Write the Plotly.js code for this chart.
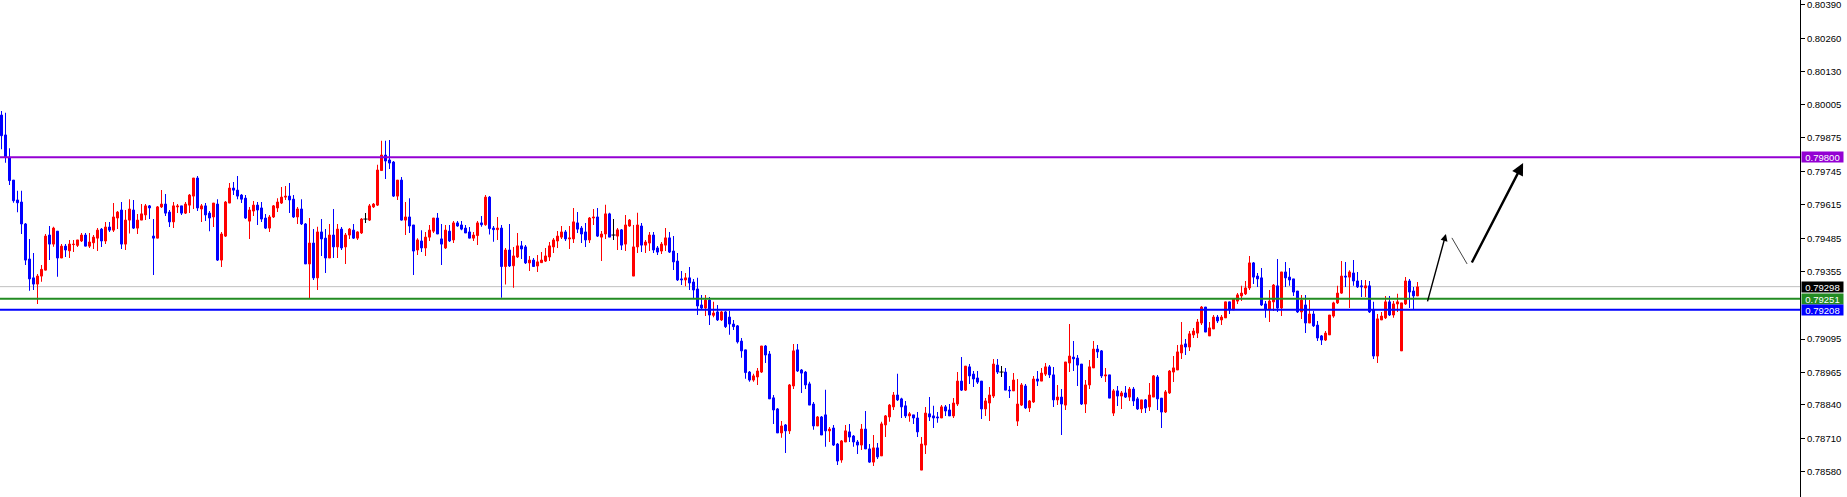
<!DOCTYPE html>
<html><head><meta charset="utf-8">
<script src="https://cdn.plot.ly/plotly-3.0.1.min.js"></script>
<style>html,body{margin:0;padding:0;background:#fff;overflow:hidden}#chart{width:1847px;height:497px}</style>
</head><body><div id="chart"></div>
<script>
const open=[
0.79963,0.79886,0.79799,0.79711,0.79634,0.79626,0.79541,0.79405,0.79332,0.79308,
0.79339,0.79362,0.79498,0.79463,0.79513,0.79409,0.79455,0.79437,0.79461,0.79458,
0.79475,0.79498,0.79455,0.79468,0.79486,0.79521,0.79475,0.79529,0.79517,0.79564,
0.79595,0.79463,0.79556,0.79595,0.79525,0.79556,0.79576,0.79611,0.79494,0.79486,
0.79607,0.79618,0.79587,0.79549,0.79607,0.79611,0.79583,0.79614,0.79649,0.79719,
0.79599,0.79611,0.79583,0.79568,0.79618,0.79401,0.79494,0.79622,0.79680,0.79672,
0.79653,0.79641,0.79552,0.79591,0.79614,0.79603,0.79564,0.79525,0.79568,0.79603,
0.79622,0.79645,0.79649,0.79637,0.79568,0.79599,0.79541,0.79386,0.79467,0.79332,
0.79510,0.79486,0.79409,0.79498,0.79452,0.79521,0.79452,0.79498,0.79517,0.79486,
0.79506,0.79560,0.79556,0.79607,0.79614,0.79748,0.79808,0.79789,0.79781,0.79649,
0.79711,0.79556,0.79568,0.79537,0.79440,0.79475,0.79448,0.79490,0.79513,0.79564,
0.79483,0.79448,0.79513,0.79479,0.79545,0.79537,0.79525,0.79510,0.79486,0.79496,
0.79545,0.79538,0.79645,0.79525,0.79519,0.79525,0.79376,0.79440,0.79379,0.79413,
0.79456,0.79452,0.79390,0.79401,0.79378,0.79391,0.79397,0.79413,0.79452,0.79475,
0.79490,0.79510,0.79483,0.79483,0.79545,0.79525,0.79510,0.79479,0.79564,0.79568,
0.79490,0.79502,0.79580,0.79498,0.79494,0.79518,0.79463,0.79533,0.79339,0.79452,
0.79533,0.79459,0.79467,0.79498,0.79448,0.79436,0.79459,0.79487,0.79436,0.79397,
0.79328,0.79324,0.79332,0.79316,0.79289,0.79227,0.79215,0.79246,0.79187,0.79200,
0.79169,0.79200,0.79180,0.79153,0.79146,0.79087,0.79053,0.78967,0.78936,0.78948,
0.78967,0.79068,0.79037,0.78867,0.78824,0.78731,0.78762,0.78739,0.78913,0.79053,
0.78975,0.78967,0.78921,0.78843,0.78758,0.78793,0.78801,0.78739,0.78750,0.78688,
0.78626,0.78696,0.78735,0.78719,0.78696,0.78684,0.78746,0.78669,0.78618,0.78673,
0.78642,0.78762,0.78793,0.78832,0.78878,0.78863,0.78836,0.78797,0.78801,0.78789,
0.78587,0.78684,0.78805,0.78797,0.78793,0.78789,0.78832,0.78820,0.78797,0.78843,
0.78932,0.78897,0.78987,0.78959,0.78944,0.78932,0.78824,0.78847,0.78874,0.78994,
0.78967,0.78967,0.78897,0.78894,0.78777,0.78839,0.78913,0.78828,0.78851,0.78940,
0.78932,0.78959,0.78987,0.78956,0.78859,0.78870,0.78839,0.79002,0.79025,0.79021,
0.78998,0.78843,0.78917,0.78983,0.79056,0.79049,0.78952,0.78956,0.78808,0.78894,
0.78874,0.78886,0.78870,0.78901,0.78863,0.78824,0.78859,0.78832,0.78870,0.78948,
0.78866,0.78812,0.78886,0.78967,0.78975,0.79041,0.79076,0.79064,0.79111,0.79118,
0.79157,0.79219,0.79107,0.79134,0.79180,0.79169,0.79177,0.79239,0.79208,0.79242,
0.79262,0.79270,0.79293,0.79390,0.79339,0.79332,0.79231,0.79211,0.79239,0.79301,
0.79215,0.79355,0.79335,0.79328,0.79281,0.79200,0.79227,0.79157,0.79192,0.79149,
0.79107,0.79091,0.79111,0.79184,0.79235,0.79273,0.79339,0.79335,0.79351,0.79320,
0.79301,0.79293,0.79301,0.79208,0.79029,0.79169,0.79177,0.79239,0.79188,0.79231,
0.79049,0.79231,0.79320,0.79281,0.79262];
const high=[
0.79979,0.79972,0.79834,0.79711,0.79670,0.79670,0.79545,0.79483,0.79428,0.79347,
0.79382,0.79502,0.79533,0.79530,0.79513,0.79463,0.79463,0.79479,0.79479,0.79479,
0.79506,0.79506,0.79506,0.79498,0.79525,0.79525,0.79549,0.79549,0.79622,0.79591,
0.79626,0.79595,0.79637,0.79634,0.79580,0.79618,0.79618,0.79614,0.79560,0.79611,
0.79673,0.79657,0.79595,0.79626,0.79618,0.79611,0.79626,0.79657,0.79719,0.79727,
0.79618,0.79622,0.79591,0.79622,0.79637,0.79510,0.79630,0.79700,0.79704,0.79727,
0.79657,0.79653,0.79607,0.79630,0.79626,0.79626,0.79580,0.79576,0.79614,0.79641,
0.79684,0.79688,0.79700,0.79653,0.79607,0.79637,0.79545,0.79564,0.79521,0.79530,
0.79560,0.79521,0.79541,0.79599,0.79541,0.79529,0.79506,0.79525,0.79541,0.79513,
0.79564,0.79583,0.79618,0.79622,0.79770,0.79863,0.79863,0.79866,0.79785,0.79711,
0.79723,0.79626,0.79641,0.79537,0.79486,0.79517,0.79510,0.79537,0.79564,0.79583,
0.79541,0.79537,0.79537,0.79552,0.79552,0.79552,0.79537,0.79529,0.79510,0.79552,
0.79572,0.79653,0.79649,0.79533,0.79568,0.79537,0.79448,0.79541,0.79452,0.79506,
0.79475,0.79459,0.79417,0.79409,0.79421,0.79432,0.79448,0.79471,0.79487,0.79514,
0.79533,0.79518,0.79533,0.79603,0.79587,0.79533,0.79545,0.79568,0.79599,0.79603,
0.79514,0.79615,0.79584,0.79560,0.79525,0.79521,0.79576,0.79560,0.79537,0.79584,
0.79545,0.79479,0.79510,0.79510,0.79456,0.79471,0.79525,0.79510,0.79494,0.79428,
0.79359,0.79351,0.79374,0.79328,0.79332,0.79266,0.79266,0.79258,0.79239,0.79227,
0.79204,0.79204,0.79204,0.79169,0.79149,0.79099,0.79053,0.78971,0.78960,0.78983,
0.79068,0.79072,0.79049,0.78878,0.78828,0.78777,0.78766,0.78921,0.79076,0.79076,
0.78979,0.78971,0.78929,0.78851,0.78797,0.78797,0.78898,0.78754,0.78762,0.78692,
0.78704,0.78762,0.78766,0.78723,0.78704,0.78766,0.78816,0.78688,0.78723,0.78692,
0.78774,0.78801,0.78843,0.78890,0.78960,0.78867,0.78855,0.78812,0.78801,0.78812,
0.78715,0.78832,0.78870,0.78836,0.78812,0.78839,0.78839,0.78843,0.78866,0.78967,
0.79025,0.78990,0.78998,0.78971,0.78971,0.78932,0.78866,0.78909,0.79018,0.79018,
0.78990,0.78983,0.78913,0.78963,0.78940,0.78925,0.78921,0.78859,0.78952,0.78971,
0.78983,0.79002,0.78994,0.78987,0.78917,0.78901,0.79006,0.79153,0.79087,0.79033,
0.78998,0.78936,0.79014,0.79087,0.79072,0.79052,0.78983,0.78956,0.78901,0.78913,
0.78894,0.78913,0.78909,0.78909,0.78870,0.78859,0.78863,0.78925,0.78956,0.78956,
0.78866,0.78897,0.78975,0.79029,0.79072,0.79161,0.79095,0.79126,0.79138,0.79173,
0.79223,0.79219,0.79161,0.79188,0.79188,0.79188,0.79239,0.79239,0.79250,0.79273,
0.79301,0.79320,0.79417,0.79394,0.79351,0.79370,0.79242,0.79285,0.79308,0.79405,
0.79355,0.79394,0.79370,0.79328,0.79281,0.79266,0.79266,0.79246,0.79204,0.79165,
0.79111,0.79126,0.79188,0.79239,0.79301,0.79397,0.79394,0.79362,0.79401,0.79355,
0.79324,0.79324,0.79320,0.79239,0.79192,0.79200,0.79262,0.79262,0.79242,0.79270,
0.79235,0.79335,0.79328,0.79297,0.79316];
const low=[
0.79831,0.79778,0.79692,0.79623,0.79586,0.79502,0.79382,0.79282,0.79285,0.79231,
0.79317,0.79362,0.79401,0.79453,0.79336,0.79409,0.79413,0.79409,0.79432,0.79452,
0.79471,0.79455,0.79448,0.79444,0.79436,0.79452,0.79463,0.79510,0.79510,0.79521,
0.79444,0.79440,0.79504,0.79521,0.79502,0.79556,0.79556,0.79560,0.79343,0.79486,
0.79603,0.79572,0.79529,0.79525,0.79583,0.79576,0.79580,0.79583,0.79599,0.79591,
0.79549,0.79552,0.79513,0.79529,0.79397,0.79374,0.79490,0.79622,0.79653,0.79637,
0.79622,0.79560,0.79483,0.79572,0.79537,0.79549,0.79521,0.79510,0.79564,0.79587,
0.79618,0.79634,0.79583,0.79564,0.79541,0.79537,0.79386,0.79254,0.79324,0.79285,
0.79417,0.79351,0.79409,0.79409,0.79409,0.79440,0.79386,0.79483,0.79483,0.79479,
0.79502,0.79545,0.79552,0.79603,0.79611,0.79748,0.79715,0.79754,0.79645,0.79634,
0.79554,0.79498,0.79506,0.79343,0.79421,0.79432,0.79417,0.79475,0.79506,0.79502,
0.79382,0.79444,0.79471,0.79467,0.79530,0.79517,0.79506,0.79486,0.79475,0.79459,
0.79530,0.79534,0.79500,0.79472,0.79479,0.79255,0.79306,0.79374,0.79294,0.79409,
0.79405,0.79386,0.79359,0.79374,0.79355,0.79390,0.79394,0.79397,0.79428,0.79448,
0.79483,0.79475,0.79444,0.79467,0.79506,0.79467,0.79452,0.79467,0.79537,0.79490,
0.79397,0.79483,0.79490,0.79479,0.79440,0.79440,0.79436,0.79530,0.79339,0.79428,
0.79432,0.79428,0.79436,0.79428,0.79421,0.79425,0.79436,0.79428,0.79363,0.79320,
0.79304,0.79300,0.79285,0.79250,0.79188,0.79208,0.79184,0.79149,0.79179,0.79165,
0.79165,0.79138,0.79112,0.79130,0.79078,0.79022,0.78941,0.78929,0.78929,0.78917,
0.78963,0.79002,0.78863,0.78766,0.78731,0.78712,0.78653,0.78727,0.78901,0.78967,
0.78886,0.78901,0.78839,0.78743,0.78758,0.78723,0.78677,0.78696,0.78680,0.78607,
0.78615,0.78696,0.78696,0.78677,0.78649,0.78665,0.78669,0.78615,0.78603,0.78630,
0.78642,0.78715,0.78774,0.78820,0.78855,0.78789,0.78789,0.78774,0.78766,0.78715,
0.78587,0.78649,0.78777,0.78750,0.78770,0.78789,0.78797,0.78797,0.78789,0.78835,
0.78894,0.78894,0.78921,0.78909,0.78921,0.78785,0.78797,0.78777,0.78866,0.78959,
0.78948,0.78897,0.78866,0.78894,0.78758,0.78835,0.78824,0.78812,0.78847,0.78913,
0.78932,0.78952,0.78944,0.78832,0.78839,0.78723,0.78820,0.78967,0.78971,0.78913,
0.78839,0.78808,0.78901,0.78983,0.79021,0.78944,0.78928,0.78866,0.78797,0.78835,
0.78824,0.78866,0.78855,0.78835,0.78820,0.78808,0.78808,0.78816,0.78870,0.78820,
0.78750,0.78808,0.78882,0.78928,0.78975,0.79018,0.79033,0.79049,0.79099,0.79099,
0.79149,0.79122,0.79107,0.79134,0.79157,0.79149,0.79177,0.79192,0.79208,0.79231,
0.79242,0.79266,0.79285,0.79308,0.79297,0.79223,0.79177,0.79161,0.79204,0.79200,
0.79184,0.79297,0.79301,0.79262,0.79196,0.79173,0.79118,0.79157,0.79142,0.79087,
0.79072,0.79087,0.79111,0.79177,0.79231,0.79270,0.79297,0.79215,0.79301,0.79293,
0.79258,0.79258,0.79196,0.79018,0.79002,0.79169,0.79173,0.79184,0.79177,0.79200,
0.79049,0.79227,0.79215,0.79211,0.79262];
const close=[
0.79883,0.79799,0.79709,0.79631,0.79623,0.79541,0.79401,0.79328,0.79308,0.79339,
0.79365,0.79494,0.79463,0.79525,0.79409,0.79455,0.79440,0.79463,0.79463,0.79479,
0.79498,0.79455,0.79471,0.79490,0.79517,0.79475,0.79529,0.79517,0.79568,0.79587,
0.79463,0.79556,0.79599,0.79525,0.79556,0.79580,0.79611,0.79603,0.79486,0.79607,
0.79618,0.79583,0.79549,0.79611,0.79611,0.79583,0.79618,0.79653,0.79719,0.79603,
0.79611,0.79576,0.79564,0.79622,0.79401,0.79502,0.79626,0.79680,0.79672,0.79649,
0.79637,0.79564,0.79595,0.79614,0.79595,0.79560,0.79525,0.79568,0.79611,0.79626,
0.79645,0.79649,0.79634,0.79568,0.79599,0.79541,0.79386,0.79467,0.79332,0.79510,
0.79483,0.79409,0.79498,0.79452,0.79521,0.79448,0.79498,0.79521,0.79486,0.79510,
0.79560,0.79560,0.79611,0.79618,0.79750,0.79808,0.79785,0.79777,0.79649,0.79711,
0.79556,0.79568,0.79533,0.79436,0.79479,0.79448,0.79490,0.79517,0.79564,0.79502,
0.79463,0.79517,0.79475,0.79545,0.79533,0.79521,0.79506,0.79486,0.79498,0.79545,
0.79538,0.79645,0.79523,0.79519,0.79525,0.79376,0.79440,0.79378,0.79417,0.79456,
0.79444,0.79390,0.79401,0.79376,0.79394,0.79401,0.79417,0.79456,0.79479,0.79494,
0.79510,0.79483,0.79487,0.79549,0.79521,0.79502,0.79479,0.79564,0.79568,0.79494,
0.79502,0.79580,0.79490,0.79498,0.79518,0.79459,0.79537,0.79556,0.79452,0.79537,
0.79459,0.79471,0.79498,0.79440,0.79432,0.79463,0.79487,0.79432,0.79394,0.79324,
0.79324,0.79332,0.79312,0.79285,0.79223,0.79215,0.79246,0.79188,0.79196,0.79169,
0.79200,0.79143,0.79153,0.79143,0.79084,0.79049,0.78965,0.78936,0.78952,0.78971,
0.79068,0.79033,0.78863,0.78820,0.78731,0.78758,0.78739,0.78917,0.79049,0.78971,
0.78963,0.78917,0.78839,0.78758,0.78793,0.78723,0.78739,0.78746,0.78684,0.78622,
0.78700,0.78739,0.78715,0.78696,0.78684,0.78746,0.78669,0.78618,0.78673,0.78638,
0.78766,0.78797,0.78839,0.78878,0.78859,0.78832,0.78797,0.78805,0.78789,0.78735,
0.78688,0.78808,0.78793,0.78789,0.78789,0.78832,0.78816,0.78797,0.78847,0.78932,
0.78897,0.78990,0.78952,0.78940,0.78928,0.78824,0.78855,0.78878,0.78998,0.78967,
0.78967,0.78897,0.78894,0.78936,0.78843,0.78917,0.78828,0.78855,0.78940,0.78932,
0.78963,0.78987,0.78956,0.78859,0.78870,0.78843,0.79006,0.79029,0.79018,0.78994,
0.78843,0.78917,0.78987,0.79056,0.79045,0.78952,0.78956,0.78866,0.78894,0.78874,
0.78886,0.78870,0.78901,0.78855,0.78824,0.78859,0.78828,0.78878,0.78952,0.78863,
0.78812,0.78890,0.78971,0.78983,0.79045,0.79072,0.79064,0.79115,0.79126,0.79161,
0.79219,0.79122,0.79138,0.79180,0.79165,0.79180,0.79239,0.79208,0.79250,0.79266,
0.79273,0.79293,0.79390,0.79335,0.79328,0.79227,0.79211,0.79242,0.79304,0.79215,
0.79355,0.79332,0.79324,0.79277,0.79200,0.79246,0.79157,0.79192,0.79146,0.79099,
0.79091,0.79118,0.79188,0.79235,0.79273,0.79339,0.79335,0.79355,0.79320,0.79297,
0.79297,0.79301,0.79200,0.79029,0.79173,0.79184,0.79239,0.79188,0.79231,0.79239,
0.79235,0.79320,0.79277,0.79262,0.79297];

// price-axis tick labels (right scale)
const tickValues=[0.80390,0.80260,0.80130,0.80005,0.79875,0.79745,0.79615,0.79485,0.79355,0.79095,0.78965,0.78840,0.78710,0.78580];
// horizontal levels: resistance, bid, support 1, support 2
const levelPrices=[0.79800,0.79298,0.79251,0.79208];
const levelColors=['#9400D3','#C0C0C0','#228B22','#0000FF'];
const levelLabelBg=['#9400D3','#000000','#228B22','#0000FF'];
const levelWidths=[2,1,2,2];
const levelLayer=['above','below','above','above'];
// projection drawing (bar index, price)
const arrowTailX=[356.4,367.4], arrowTailY=[0.79235,0.79386];
const arrowHeadX=[361.1,380.4], arrowHeadY=[0.79502,0.79777];
const arrowWidths=[1.4,2.4];
const segX=[362.6,366.4], segY=[0.79487,0.79386];

const UP='#FF0000', DOWN='#0000FF', DOJI='#000000';
const idx=open.map((_,i)=>i);
const col=open.map((o,i)=>close[i]>o?UP:(close[i]<o?DOWN:DOJI));
const bodyIdx=idx.filter(i=>open[i]!==close[i]);
const dojiIdx=idx.filter(i=>open[i]===close[i]);
const hi=idx.map(i=>Math.max(high[i],open[i],close[i]));
const lo=idx.map(i=>Math.min(low[i],open[i],close[i]));

const traces=[
 {type:'bar',x:idx,base:lo,y:idx.map(i=>hi[i]-lo[i]),width:0.25,
  marker:{color:col,line:{width:0}},hoverinfo:'skip',showlegend:false},
 {type:'bar',x:bodyIdx,base:bodyIdx.map(i=>Math.min(open[i],close[i])),
  y:bodyIdx.map(i=>Math.abs(close[i]-open[i])),width:0.5,
  marker:{color:bodyIdx.map(i=>col[i]),line:{width:1,color:bodyIdx.map(i=>col[i])}},
  hoverinfo:'skip',showlegend:false},
 {type:'scatter',mode:'markers',x:dojiIdx,y:dojiIdx.map(i=>close[i]),
  marker:{symbol:'line-ew',size:3,line:{width:1,color:DOJI}},hoverinfo:'skip',showlegend:false}
];

const FONT='Liberation Sans';
const shapes=levelPrices.map((p,k)=>({type:'line',xref:'paper',x0:0,x1:1,yref:'y',y0:p,y1:p,
  layer:levelLayer[k],line:{color:levelColors[k],width:levelWidths[k]}}));
shapes.push({type:'line',xref:'x',yref:'y',x0:segX[0],y0:segY[0],x1:segX[1],y1:segY[1],
  line:{color:'#444',width:1}});

const annotations=levelPrices.map((p,k)=>({xref:'paper',x:1,xanchor:'left',xshift:1,yref:'y',y:p,
  yanchor:'middle',text:p.toFixed(5),showarrow:false,font:{family:FONT,size:9.5,color:'#ffffff'},
  bgcolor:levelLabelBg[k],borderpad:1,width:39,height:8,align:'center',valign:'middle'}));
arrowHeadX.forEach((hx,k)=>annotations.push({xref:'x',yref:'y',x:hx,y:arrowHeadY[k],
  axref:'x',ayref:'y',ax:arrowTailX[k],ay:arrowTailY[k],text:'',showarrow:true,
  arrowhead:2,arrowsize:1,arrowwidth:arrowWidths[k],arrowcolor:'#000',standoff:0,startstandoff:0}));

const layout={
 width:1847,height:497,margin:{l:0,r:47,t:0,b:0,pad:0},
 paper_bgcolor:'#ffffff',plot_bgcolor:'#ffffff',
 barmode:'overlay',showlegend:false,hovermode:false,
 xaxis:{range:[-0.375,449.625],visible:false,fixedrange:true},
 yaxis:{side:'right',range:[0.784827,0.80409],showgrid:false,zeroline:false,
  showline:true,linecolor:'#000',linewidth:1,ticks:'outside',ticklen:4,tickwidth:1,tickcolor:'#000',
  tickvals:tickValues,ticktext:tickValues.map(v=>v.toFixed(5)),ticklabeloverflow:'allow',
  tickfont:{family:FONT,size:9.5,color:'#000'},fixedrange:true},
 shapes:shapes,annotations:annotations
};
Plotly.newPlot('chart',traces,layout,{staticPlot:true,displayModeBar:false});
</script></body></html>
